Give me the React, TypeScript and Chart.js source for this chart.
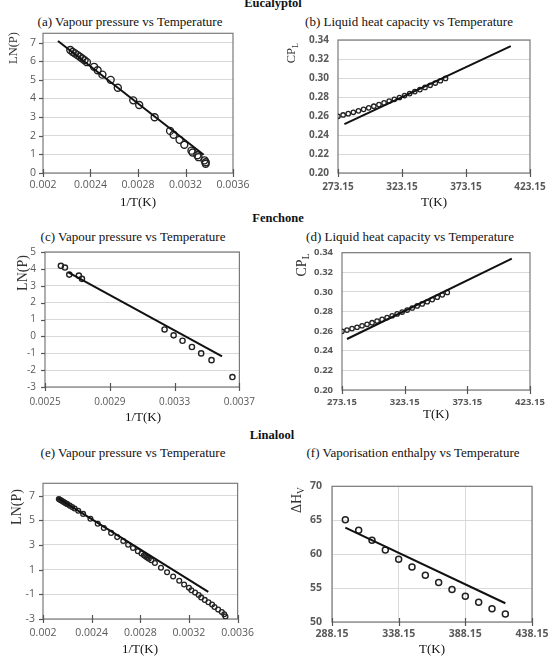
import React, { useEffect, useRef } from "react";
import { Chart, registerables } from "chart.js";
Chart.register(...registerables);

// ---------------- DATA ----------------
// (a) Eucalyptol – vapour pressure
const EUC_VP_INVT = [0.00223, 0.00225, 0.00227, 0.00229, 0.00231, 0.00233, 0.00235, 0.00237, 0.00243, 0.00246, 0.0025, 0.00257, 0.00263, 0.00276, 0.00281, 0.00294, 0.00307, 0.0031, 0.00315, 0.00319, 0.00325, 0.00326, 0.0033, 0.00331, 0.00336, 0.00337, 0.00337];
const EUC_VP_LNP = [6.6, 6.5, 6.42, 6.33, 6.24, 6.15, 6.05, 5.95, 5.7, 5.52, 5.28, 5.0, 4.58, 3.9, 3.65, 2.99, 2.26, 2.05, 1.78, 1.52, 1.2, 1.1, 0.95, 0.85, 0.68, 0.58, 0.5];
const EUC_VP_FIT_INVT = [0.002126, 0.003353];
const EUC_VP_FIT_LNP = [7.09, 0.98];
const EUC_VP_X_TICKS = [0.002, 0.0024, 0.0028, 0.0032, 0.0036];
const EUC_VP_Y_TICKS = [0, 1, 2, 3, 4, 5, 6, 7];

// (b) Eucalyptol – liquid heat capacity
const EUC_CP_T = [273.15, 277.15, 281.15, 285.15, 289.15, 293.15, 297.15, 301.15, 305.15, 309.15, 313.15, 317.15, 321.15, 325.15, 329.15, 333.15, 337.15, 341.15, 345.15, 349.15, 353.15, 357.15];
const EUC_CP = [0.2597, 0.2611, 0.2625, 0.2639, 0.2654, 0.267, 0.2686, 0.2703, 0.272, 0.2738, 0.2757, 0.2776, 0.2795, 0.2815, 0.2836, 0.2857, 0.2878, 0.2901, 0.2923, 0.2947, 0.2971, 0.2995];
const EUC_CP_FIT_T = [278.15, 408.15];
const EUC_CP_FIT = [0.2515, 0.3335];

// (d) Fenchone – liquid heat capacity
const FEN_CP_T = [273.15, 277.15, 281.15, 285.15, 289.15, 293.15, 297.15, 301.15, 305.15, 309.15, 313.15, 317.15, 321.15, 325.15, 329.15, 333.15, 337.15, 341.15, 345.15, 349.15, 353.15, 357.15];
const FEN_CP = [0.2598, 0.2611, 0.2626, 0.264, 0.2655, 0.267, 0.2686, 0.2703, 0.272, 0.2738, 0.2757, 0.2776, 0.2795, 0.2815, 0.2836, 0.2857, 0.2878, 0.29, 0.2922, 0.2946, 0.297, 0.2995];
const FEN_CP_FIT_T = [277.15, 408.65];
const FEN_CP_FIT = [0.252, 0.334];

const CP_X_TICKS = [273.15, 323.15, 373.15, 423.15];
const CP_Y_TICKS = [0.2, 0.22, 0.24, 0.26, 0.28, 0.3, 0.32, 0.34];

// (c) Fenchone – vapour pressure
const FEN_VP_INVT = [0.002598, 0.002623, 0.00265, 0.002709, 0.002728, 0.003238, 0.003294, 0.003349, 0.003407, 0.003464, 0.003528, 0.003657];
const FEN_VP_LNP = [4.18, 4.08, 3.66, 3.6, 3.41, 0.41, 0.06, -0.26, -0.63, -1.01, -1.41, -2.41];
const FEN_VP_FIT_INVT = [0.002644, 0.003593];
const FEN_VP_FIT_LNP = [3.79, -1.18];
const FEN_VP_X_TICKS = [0.0025, 0.0029, 0.0033, 0.0037];
const FEN_VP_Y_TICKS = [-3, -2, -1, 0, 1, 2, 3, 4, 5];

// (e) Linalool – vapour pressure
const LIN_VP_INVT = [0.00213, 0.00214, 0.00215, 0.00216, 0.00217, 0.00218, 0.00219, 0.0022, 0.00222, 0.00224, 0.00226, 0.00229, 0.00233, 0.00239, 0.00245, 0.0025, 0.00256, 0.00261, 0.00266, 0.0027, 0.00274, 0.00278, 0.00281, 0.00283, 0.00284, 0.00285, 0.00286, 0.00287, 0.00289, 0.00292, 0.00297, 0.00302, 0.00307, 0.00312, 0.00316, 0.0032, 0.00322, 0.00325, 0.00328, 0.0033, 0.00333, 0.00336, 0.00339, 0.00341, 0.00344, 0.00347, 0.00349, 0.0035];
const LIN_VP_LNP = [6.72, 6.66, 6.6, 6.54, 6.48, 6.42, 6.36, 6.31, 6.19, 6.07, 5.96, 5.78, 5.52, 5.13, 4.72, 4.38, 3.98, 3.64, 3.32, 3.02, 2.76, 2.5, 2.3, 2.17, 2.1, 2.03, 1.96, 1.89, 1.76, 1.54, 1.16, 0.79, 0.44, 0.1, -0.2, -0.47, -0.67, -0.86, -1.06, -1.25, -1.45, -1.64, -1.83, -2.03, -2.24, -2.43, -2.62, -2.8];
const LIN_VP_FIT_INVT = [0.00212, 0.003359];
const LIN_VP_FIT_LNP = [6.82, -0.8];
const LIN_VP_X_TICKS = [0.002, 0.0024, 0.0028, 0.0032, 0.0036];
const LIN_VP_Y_TICKS = [-3, -1, 1, 3, 5, 7];

// (f) Linalool – vaporisation enthalpy
const LIN_DH_T = [298.15, 308.15, 318.15, 328.15, 338.15, 348.15, 358.15, 368.15, 378.15, 388.15, 398.15, 408.15, 418.15];
const LIN_DH = [65.08, 63.54, 62.04, 60.63, 59.23, 58.1, 56.89, 55.81, 54.78, 53.79, 52.9, 51.97, 51.17];
const LIN_DH_FIT_T = [298.15, 418.15];
const LIN_DH_FIT = [63.91, 52.76];
const LIN_DH_X_TICKS = [288.15, 338.15, 388.15, 438.15];
const LIN_DH_Y_TICKS = [50, 55, 60, 65, 70];

// ---------------- HELPERS ----------------
const SERIF = '"Liberation Serif", "Times New Roman", serif';
const SANS = '"Open Sans", "Liberation Sans", sans-serif';

const zip = (xs: number[], ys: number[]) => xs.map((x, i) => ({ x, y: ys[i] }));

type PanelProps = {
  area: { l: number; t: number; r: number; b: number };
  xRange: [number, number];
  yRange: [number, number];
  xTicks: number[];
  yTicks: number[];
  xDec: number | null;
  yDec: number | null;
  pts: { x: number; y: number }[];
  fit: { x: number; y: number }[];
  radius: number;
  pointWidth: number;
  tickSize: number;
  tickWeight: string;
  xPad: number;
  yPad: number;
  vGrid: boolean;
  yTickMarks: boolean;
};

const fmt = (v: number, dec: number | null) =>
  dec === null ? String(parseFloat(v.toFixed(6))) : v.toFixed(dec);

const LEFT = 42;
const TOP = 10;
const RIGHT = 24;
const BOTTOM = 30;

function Panel(p: PanelProps) {
  const ref = useRef<HTMLCanvasElement | null>(null);
  const w = p.area.r - p.area.l + LEFT + RIGHT;
  const h = p.area.b - p.area.t + TOP + BOTTOM;
  useEffect(() => {
    if (!ref.current) return;
    const frame = {
      id: "frame",
      beforeDatasetsDraw(chart: any) {
        const { ctx, chartArea: a, scales } = chart;
        ctx.save();
        ctx.strokeStyle = "#7a7a7a";
        ctx.lineWidth = 1.2;
        ctx.strokeRect(a.left, a.top, a.right - a.left, a.bottom - a.top);
        ctx.strokeStyle = "#555";
        ctx.lineWidth = 1.2;
        p.xTicks.forEach((v) => {
          const x = Math.round(scales.x.getPixelForValue(v)) + 0.5;
          ctx.beginPath();
          ctx.moveTo(x, a.bottom - 4);
          ctx.lineTo(x, a.bottom + 4);
          ctx.stroke();
        });
        if (p.yTickMarks) {
          p.yTicks.forEach((v) => {
            const y = Math.round(scales.y.getPixelForValue(v)) + 0.5;
            ctx.beginPath();
            ctx.moveTo(a.left - 4, y);
            ctx.lineTo(a.left, y);
            ctx.stroke();
          });
        }
        ctx.restore();
      },
    };
    const chart = new Chart(ref.current, {
      type: "scatter",
      data: {
        datasets: [
          {
            data: p.fit,
            showLine: true,
            borderColor: "#111",
            borderWidth: 2,
            pointRadius: 0,
          },
          {
            data: p.pts,
            showLine: false,
            pointRadius: p.radius,
            pointBorderColor: "#222",
            pointBackgroundColor: "rgba(0,0,0,0)",
            pointBorderWidth: p.pointWidth,
          },
        ],
      },
      options: {
        animation: false,
        responsive: false,
        devicePixelRatio: 1,
        layout: { padding: { top: TOP, right: RIGHT, left: 0, bottom: 0 } },
        plugins: { legend: { display: false }, tooltip: { enabled: false }, title: { display: false } },
        scales: {
          x: {
            type: "linear",
            position: "bottom",
            min: p.xRange[0],
            max: p.xRange[1],
            afterBuildTicks: (s: any) => {
              s.ticks = p.xTicks.map((v) => ({ value: v }));
            },
            afterFit: (s: any) => {
              s.height = BOTTOM;
            },
            grid: { display: p.vGrid, drawTicks: false, color: "#d9d9d9", lineWidth: 1 },
            border: { display: false },
            ticks: {
              autoSkip: false,
              maxRotation: 0,
              padding: p.xPad,
              color: "#595959",
              font: { family: SANS, size: p.tickSize, weight: p.tickWeight as any },
              callback: (v: any) => fmt(Number(v), p.xDec),
            },
          },
          y: {
            type: "linear",
            position: "left",
            min: p.yRange[0],
            max: p.yRange[1],
            afterBuildTicks: (s: any) => {
              s.ticks = p.yTicks.map((v) => ({ value: v }));
            },
            afterFit: (s: any) => {
              s.width = LEFT;
            },
            grid: { display: true, drawTicks: false, color: "#d9d9d9", lineWidth: 1 },
            border: { display: false },
            ticks: {
              autoSkip: false,
              padding: p.yPad,
              color: "#595959",
              font: { family: SANS, size: p.tickSize, weight: p.tickWeight as any },
              callback: (v: any) => fmt(Number(v), p.yDec),
            },
          },
        },
      },
      plugins: [frame],
    } as any);
    return () => chart.destroy();
  }, []);
  return (
    <canvas
      ref={ref}
      width={w}
      height={h}
      style={{ position: "absolute", left: p.area.l - LEFT, top: p.area.t - TOP, width: w, height: h }}
    />
  );
}

function Txt(props: { x: number; y: number; size: number; bold?: boolean; rot?: boolean; color?: string; children: any }) {
  return (
    <div
      style={{
        position: "absolute",
        left: props.x,
        top: props.y,
        transform: `translate(-50%, -50%)${props.rot ? " rotate(-90deg)" : ""}`,
        fontFamily: SERIF,
        fontSize: props.size,
        fontWeight: props.bold ? "bold" : "normal",
        lineHeight: 1,
        whiteSpace: "nowrap",
        color: props.color || "#111",
      }}
    >
      {props.children}
    </div>
  );
}

const Sub = ({ children }: { children: any }) => (
  <span style={{ fontSize: "0.68em", verticalAlign: "-0.3em" }}>{children}</span>
);

export default function App() {
  return (
    <div style={{ position: "absolute", left: 0, top: 0, width: 550, height: 658, overflow: "hidden", background: "#fff" }}>
      {/* Section headings */}
      <Txt x={273} y={3} size={12.5} bold>Eucalyptol</Txt>
      <Txt x={278} y={218} size={12.5} bold>Fenchone</Txt>
      <Txt x={272} y={435} size={12.5} bold>Linalool</Txt>

      {/* Panel titles */}
      <Txt x={130} y={21} size={13}>(a) Vapour pressure vs Temperature</Txt>
      <Txt x={409} y={21} size={13}>(b) Liquid heat capacity vs Temperature</Txt>
      <Txt x={133} y={236} size={13}>(c) Vapour pressure vs Temperature</Txt>
      <Txt x={410} y={236} size={13}>(d) Liquid heat capacity vs Temperature</Txt>
      <Txt x={133} y={452} size={13}>(e) Vapour pressure vs Temperature</Txt>
      <Txt x={413} y={452} size={13}>(f) Vaporisation enthalpy vs Temperature</Txt>

      <Panel
        area={{ l: 43, t: 30, r: 233, b: 173 }}
        xRange={[0.002, 0.0036]}
        yRange={[0, 7.5]}
        xTicks={EUC_VP_X_TICKS}
        yTicks={EUC_VP_Y_TICKS}
        xDec={null}
        yDec={null}
        pts={zip(EUC_VP_INVT, EUC_VP_LNP)}
        fit={zip(EUC_VP_FIT_INVT, EUC_VP_FIT_LNP)}
        radius={3.5}
        pointWidth={1.4}
        tickSize={10.5}
        tickWeight="normal"
        xPad={6}
        yPad={7}
        vGrid={false}
        yTickMarks={true}
      />
      <Panel
        area={{ l: 338, t: 35, r: 530, b: 173 }}
        xRange={[273.15, 423.15]}
        yRange={[0.2, 0.34]}
        xTicks={CP_X_TICKS}
        yTicks={CP_Y_TICKS}
        xDec={2}
        yDec={2}
        pts={zip(EUC_CP_T, EUC_CP)}
        fit={zip(EUC_CP_FIT_T, EUC_CP_FIT)}
        radius={2.2}
        pointWidth={1.3}
        tickSize={10}
        tickWeight="bold"
        xPad={8}
        yPad={9}
        vGrid={false}
        yTickMarks={false}
      />
      <Panel
        area={{ l: 45, t: 247, r: 240, b: 387 }}
        xRange={[0.0025, 0.0037]}
        yRange={[-3, 5]}
        xTicks={FEN_VP_X_TICKS}
        yTicks={FEN_VP_Y_TICKS}
        xDec={null}
        yDec={null}
        pts={zip(FEN_VP_INVT, FEN_VP_LNP)}
        fit={zip(FEN_VP_FIT_INVT, FEN_VP_FIT_LNP)}
        radius={2.6}
        pointWidth={1.4}
        tickSize={10}
        tickWeight="normal"
        xPad={9}
        yPad={9}
        vGrid={false}
        yTickMarks={true}
      />
      <Panel
        area={{ l: 342, t: 248, r: 530, b: 390 }}
        xRange={[273.15, 423.15]}
        yRange={[0.2, 0.34]}
        xTicks={CP_X_TICKS}
        yTicks={CP_Y_TICKS}
        xDec={2}
        yDec={2}
        pts={zip(FEN_CP_T, FEN_CP)}
        fit={zip(FEN_CP_FIT_T, FEN_CP_FIT)}
        radius={2.2}
        pointWidth={1.3}
        tickSize={9.5}
        tickWeight="bold"
        xPad={7}
        yPad={9}
        vGrid={false}
        yTickMarks={false}
      />
      <Panel
        area={{ l: 43, t: 479, r: 238, b: 619 }}
        xRange={[0.002, 0.0036]}
        yRange={[-3, 8]}
        xTicks={LIN_VP_X_TICKS}
        yTicks={LIN_VP_Y_TICKS}
        xDec={null}
        yDec={null}
        pts={zip(LIN_VP_INVT, LIN_VP_LNP)}
        fit={zip(LIN_VP_FIT_INVT, LIN_VP_FIT_LNP)}
        radius={2.4}
        pointWidth={1.3}
        tickSize={10.5}
        tickWeight="normal"
        xPad={8}
        yPad={8}
        vGrid={false}
        yTickMarks={true}
      />
      <Panel
        area={{ l: 332, t: 480, r: 532, b: 622 }}
        xRange={[288.15, 438.15]}
        yRange={[50, 70]}
        xTicks={LIN_DH_X_TICKS}
        yTicks={LIN_DH_Y_TICKS}
        xDec={2}
        yDec={null}
        pts={zip(LIN_DH_T, LIN_DH)}
        fit={zip(LIN_DH_FIT_T, LIN_DH_FIT)}
        radius={3}
        pointWidth={1.5}
        tickSize={10.5}
        tickWeight="bold"
        xPad={6}
        yPad={10}
        vGrid={true}
        yTickMarks={false}
      />

      {/* Axis titles */}
      <Txt x={13} y={48} size={12.5} rot color="#333">LN(P)</Txt>
      <Txt x={292} y={53} size={12.5} rot color="#333">CP<Sub>L</Sub></Txt>
      <Txt x={23} y={273} size={14} rot color="#333">LN(P)</Txt>
      <Txt x={303} y={265} size={14} rot color="#333">CP<Sub>L</Sub></Txt>
      <Txt x={17} y={507} size={14} rot color="#333">LN(P)</Txt>
      <Txt x={298} y={500} size={14} rot color="#333">ΔH<Sub>V</Sub></Txt>

      <Txt x={138} y={201} size={13}>1/T(K)</Txt>
      <Txt x={434} y={201} size={13}>T(K)</Txt>
      <Txt x={143} y={416} size={13}>1/T(K)</Txt>
      <Txt x={436} y={413} size={13}>T(K)</Txt>
      <Txt x={140} y={648} size={13}>1/T(K)</Txt>
      <Txt x={432} y={648} size={13}>T(K)</Txt>
    </div>
  );
}
